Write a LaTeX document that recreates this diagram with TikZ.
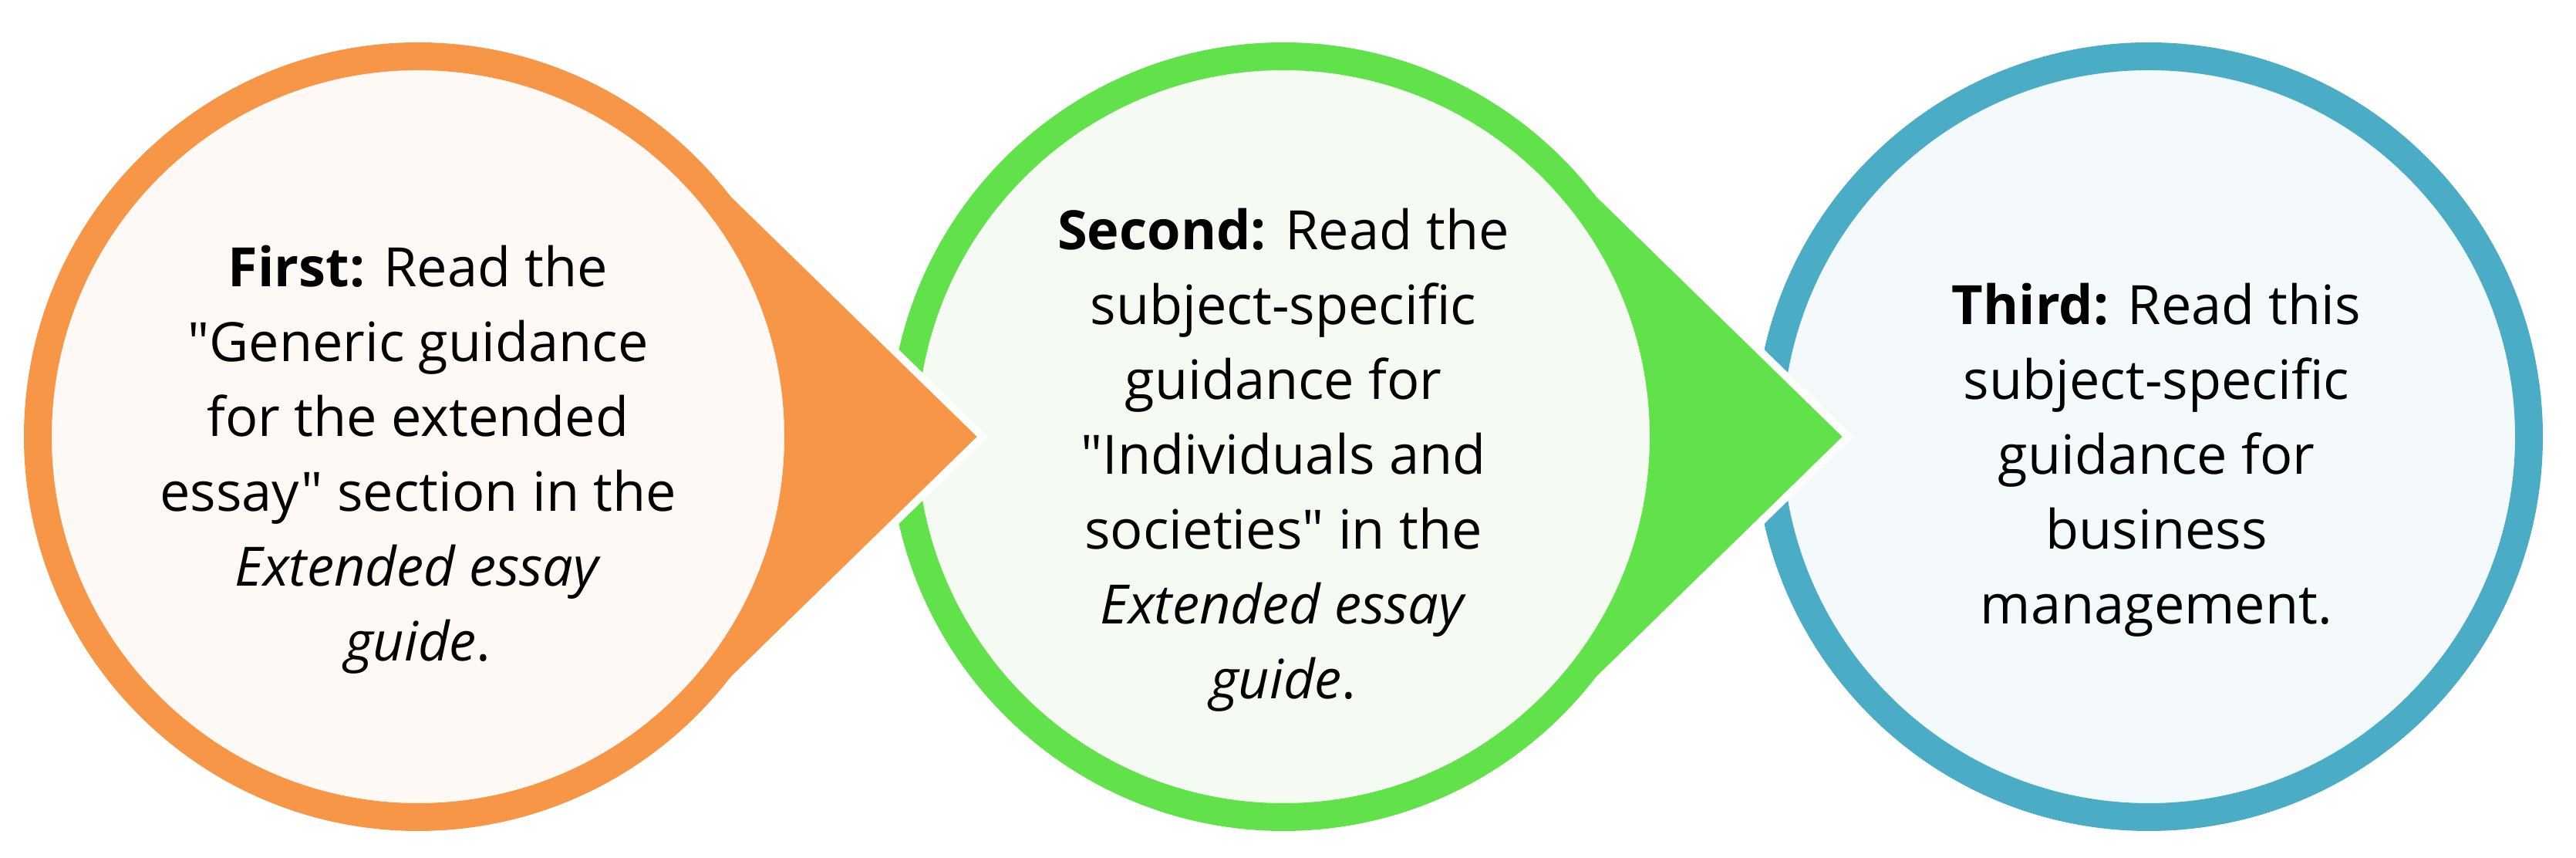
\documentclass[tikz,border=0pt]{standalone}
\usepackage{fontspec}
\setmainfont{Open Sans}[Ligatures=TeXOff]
\usetikzlibrary{calc}

\definecolor{firstRing}{HTML}{F79646}
\definecolor{firstFill}{HTML}{FEF9F5}
\definecolor{secondRing}{HTML}{62E24A}
\definecolor{secondFill}{HTML}{F5FAF3}
\definecolor{thirdRing}{HTML}{4BACC6}
\definecolor{thirdFill}{HTML}{F4FAFB}

\begin{document}
\begin{tikzpicture}[
            ring/.style={
                circle,
                line width=3.6mm,
                minimum size=9.86cm,
                inner sep=0pt
            },
            pointer/.style={
                draw=white,
                line width=1mm
            },
            note/.style={
                align=center,
                font=\fontsize{20}{27.6}\selectfont
            }
        ]
        \useasboundingbox (0,0) rectangle (33.4,11.12);

        % centres
        \coordinate (c1) at (5.42,5.46);
        \coordinate (c2) at (16.64,5.46);
        \coordinate (c3) at (27.86,5.46);

        % third step
        \node[ring, draw=thirdRing, fill=thirdFill] (third) at (c3) {};
        \node[note] (thirdText) at ([xshift=1mm, yshift=-3mm]third.center) {\textbf{Third:} Read this\\ subject-specific\\ guidance for\\ business\\ management.};

        % second step
        \filldraw[pointer, fill=secondRing] ($(c2)+(45.7:5.11)$) -- ($(c2)+(7.32,0)$) -- ($(c2)+(-45.7:5.11)$) arc[start angle=-45.7, end angle=-314.3, radius=5.11] -- cycle;
        \node[ring, draw=secondRing, fill=secondFill] (second) at (c2) {};
        \node[note] (secondText) at ([yshift=-3mm]second.center) {\textbf{Second:} Read the\\ subject-specific\\ guidance for\\ "Individuals and\\ societies" in the\\ \textit{Extended essay}\\ \textit{guide}.};

        % first step
        \filldraw[pointer, fill=firstRing] ($(c1)+(45.7:5.11)$) -- ($(c1)+(7.32,0)$) -- ($(c1)+(-45.7:5.11)$) arc[start angle=-45.7, end angle=-314.3, radius=5.11] -- cycle;
        \node[ring, draw=firstRing, fill=firstFill] (first) at (c1) {};
        \node[note] (firstText) at ([yshift=-3mm]first.center) {\textbf{First:} Read the\\ "Generic guidance\\ for the extended\\ essay" section in the\\ \textit{Extended essay}\\ \textit{guide}.};
    \end{tikzpicture}
\end{document}
